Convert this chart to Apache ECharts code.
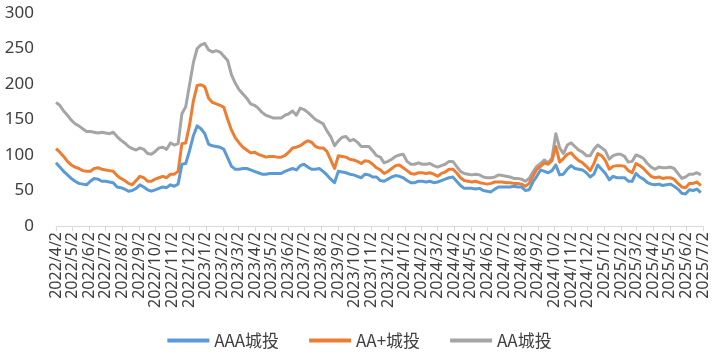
<!DOCTYPE html>
<html>
<head>
<meta charset="utf-8">
<script src="https://cdn.jsdelivr.net/npm/echarts@6/dist/echarts.min.js"></script>
<style>
html,body{margin:0;padding:0;background:#fff;}
#c{width:719px;height:355px;}
</style>
</head>
<body>
<div id="c"></div>
<script>
// Weekly observations starting 2022/4/2
var startDate = [2022, 4, 2];
var weekCount = 170;
// Month tick labels (x axis)
var tickLabels = ['2022/4/2','2022/5/2','2022/6/2','2022/7/2','2022/8/2','2022/9/2','2022/10/2','2022/11/2','2022/12/2',
  '2023/1/2','2023/2/2','2023/3/2','2023/4/2','2023/5/2','2023/6/2','2023/7/2','2023/8/2','2023/9/2','2023/10/2','2023/11/2','2023/12/2',
  '2024/1/2','2024/2/2','2024/3/2','2024/4/2','2024/5/2','2024/6/2','2024/7/2','2024/8/2','2024/9/2','2024/10/2','2024/11/2','2024/12/2',
  '2025/1/2','2025/2/2','2025/3/2','2025/4/2','2025/5/2','2025/6/2','2025/7/2'];
var seriesNames = ['AAA城投', 'AA+城投', 'AA城投'];

var aaa = [89,83,77,72,67,63,60,59,58,63,
  67,66,63,63,62,61,55,54,52,49,
  50,53,58,55,51,49,51,53,55,54,
  58,56,59,87,88,106,127,141,137,130,
  115,113,112,111,108,96,84,80,80,81,
  81,79,77,75,73,73,74,74,74,74,
  77,79,81,79,85,87,83,80,80,81,
  77,72,66,61,77,76,75,73,72,70,
  68,73,72,69,69,64,63,66,69,71,
  70,68,64,61,61,63,63,62,63,61,
  62,64,66,68,69,63,57,53,53,53,
  52,53,50,49,48,52,55,55,55,55,
  56,55,55,50,51,62,70,79,77,75,
  78,86,72,73,80,85,81,80,79,75,
  69,73,86,80,74,65,70,68,68,68,
  63,63,74,69,66,61,59,58,59,57,
  58,59,56,52,46,45,51,50,52,47];

var aaPlus = [109,104,98,91,86,83,81,78,77,77,
  81,82,80,79,78,77,71,67,64,60,
  58,64,70,68,63,63,66,68,70,68,
  73,73,77,116,117,142,176,198,199,196,
  180,174,172,170,167,150,135,124,117,111,
  107,103,104,101,99,97,98,98,97,97,
  99,104,110,111,113,117,120,118,112,110,
  110,105,93,81,99,98,97,94,93,91,
  88,92,91,87,82,79,74,77,81,85,
  86,82,78,74,73,75,75,74,75,73,
  70,74,76,80,80,75,68,64,63,62,
  63,61,60,59,60,62,62,62,61,61,
  60,60,59,56,60,70,80,84,89,87,
  92,112,90,95,101,103,97,92,89,84,
  78,88,102,99,92,80,84,85,85,84,
  78,75,88,85,81,75,70,68,69,67,
  68,68,66,60,55,54,60,60,62,57];

var aa = [174,170,162,156,149,144,141,137,133,133,
  132,131,132,131,130,132,126,121,117,112,
  109,107,110,108,102,101,105,110,111,108,
  117,114,116,158,168,199,230,250,255,257,
  248,245,247,245,239,233,213,201,192,186,
  180,172,170,166,160,156,154,152,152,152,
  156,158,162,156,166,164,160,155,150,147,
  144,134,126,113,120,125,126,120,122,118,
  112,112,112,106,99,97,89,91,94,98,
  100,101,91,87,87,89,87,87,88,85,
  83,85,87,91,91,84,77,74,73,72,
  73,72,69,68,68,69,72,71,70,69,
  67,67,66,63,67,76,84,88,93,89,
  96,130,110,102,114,117,112,107,104,99,
  99,108,114,110,106,94,99,101,101,98,
  90,91,100,98,95,88,83,80,83,82,
  82,83,81,74,67,69,73,73,75,72];

function parseDate(s){ var p = s.split('/'); return new Date(+p[0], +p[1]-1, +p[2]).getTime(); }
var weekDates = [];
for (var i = 0; i < weekCount; i++) {
  weekDates.push(new Date(startDate[0], startDate[1]-1, startDate[2] + 7*i).getTime());
}
var tickValues = tickLabels.map(parseDate);
function pair(vals){ return vals.map(function(v,i){ return [weekDates[i], v]; }); }

var colors = ['#5B9BD5', '#ED7D31', '#A5A5A5'];
var data = [aaa, aaPlus, aa];
var chart = echarts.init(document.getElementById('c'), null, {renderer:'canvas'});
chart.setOption({
  animation: false,
  color: colors,
  grid: {left: 56, right: 16, top: 13, bottom: 129, containLabel: false},
  legend: {
    bottom: 1, left: 'center',
    icon: 'rect', itemWidth: 42, itemHeight: 4, itemGap: 30,
    textStyle: {fontSize: 17, color: '#404040', fontFamily: 'Noto Sans CJK SC'},
    data: seriesNames
  },
  xAxis: {
    type: 'value',
    min: tickValues[0], max: tickValues[tickValues.length-1],
    axisLine: {show: true, lineStyle: {color: '#D9D9D9', width: 1}},
    axisTick: {show: true, length: 5, lineStyle: {color: '#D9D9D9'}, customValues: tickValues},
    splitLine: {show: false},
    axisLabel: {
      customValues: tickValues, rotate: 90, margin: 6, hideOverlap: false,
      fontSize: 16, lineHeight: 13, color: '#404040', fontFamily: 'Noto Sans',
      showMinLabel: true, showMaxLabel: true,
      formatter: function(v){ var d = new Date(v); return d.getFullYear()+'/'+(d.getMonth()+1)+'/'+d.getDate(); }
    }
  },
  yAxis: {
    type: 'value', min: 0, max: 300, interval: 50,
    axisLine: {show: false}, axisTick: {show: false},
    splitLine: {show: false},
    axisLabel: {fontSize: 17, color: '#404040', margin: 22, fontFamily: 'Noto Sans'}
  },
  series: data.map(function(d, i){
    return {
      name: seriesNames[i], type: 'line', data: pair(d),
      showSymbol: false, symbol: 'none',
      lineStyle: {width: 3, color: colors[i], join: 'round'},
      z: 3 - i
    };
  })
});
</script>
</body>
</html>
